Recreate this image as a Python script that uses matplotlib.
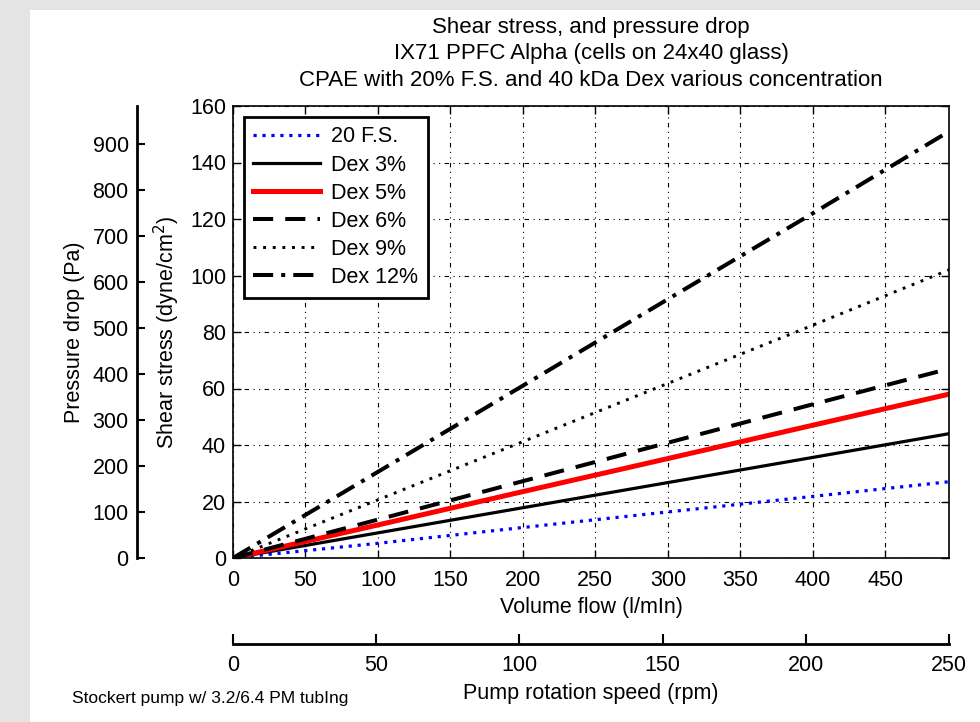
import matplotlib
matplotlib.use('Agg')
import matplotlib.pyplot as plt
import matplotlib.patches as patches
import numpy as np

plt.rcParams['font.family'] = ['Liberation Sans', 'DejaVu Sans']

# volume flow (l/min) sample points
flow = [0, 100, 200, 300, 400, 494]

fs20 = [0, 5.2, 10.8, 16.3, 21.8, 27]
dex3 = [0, 8.9, 17.8, 26.7, 35.6, 44]
dex5 = [0, 11.7, 23.5, 35.2, 47, 58]
dex6 = [0, 13.6, 27.2, 40.8, 54.4, 67]
dex9 = [0, 20.6, 41.2, 61.8, 82.4, 102]
dex12 = [0, 30.5, 61, 91.6, 122, 151]

labels = ['20 F.S.', 'Dex 3%', 'Dex 5%', 'Dex 6%', 'Dex 9%', 'Dex 12%']

flow_ticks = [0, 50, 100, 150, 200, 250, 300, 350, 400, 450]
shear_ticks = [0, 20, 40, 60, 80, 100, 120, 140, 160]
pressure_ticks = [0, 100, 200, 300, 400, 500, 600, 700, 800, 900]
rpm_ticks = [0, 50, 100, 150, 200, 250]

flow_max = 494
shear_max = 160
pressure_max = 983
rpm_max = 250

fs = 15.5

fig = plt.figure(figsize=(9.8, 7.22), dpi=100, facecolor='#e4e4e4')
# white page area over the grey background
fig.patches.append(patches.Rectangle((30 / 980, 0), 1, 1 - 10 / 722, transform=fig.transFigure,
                                     facecolor='white', edgecolor='none', zorder=-5))

L, R, B, T = 233 / 980, 949 / 980, 1 - 558 / 722, 1 - 106 / 722
ax = fig.add_axes([L, B, R - L, T - B])

ax.plot(flow, fs20, color='blue', linestyle=(0, (1, 1.8)), lw=2.3, label=labels[0])
ax.plot(flow, dex3, color='black', linestyle='-', lw=2.3, label=labels[1])
ax.plot(flow, dex5, color='red', linestyle='-', lw=3.6, label=labels[2])
ax.plot(flow, dex6, color='black', linestyle=(0, (5, 3)), lw=2.9, label=labels[3])
ax.plot(flow, dex9, color='black', linestyle=(0, (1, 2.3)), lw=2.1, label=labels[4])
ax.plot(flow, dex12, color='black', linestyle=(0, (5, 2, 1, 2)), lw=2.9, label=labels[5])

ax.set_xlim(0, flow_max)
ax.set_ylim(0, shear_max)
ax.set_xticks(flow_ticks)
ax.set_yticks(shear_ticks)
ax.tick_params(direction='in', length=6, width=1, top=True, right=True, labelsize=fs)
ax.tick_params(axis='x', pad=9)
ax.tick_params(axis='y', pad=5)
for s in ax.spines.values():
    s.set_linewidth(1.2)
ax.grid(True, color='black', linestyle=(0, (1, 4, 1, 4, 4, 4)), lw=0.8)
ax.set_xlabel('Volume flow (l/mIn)', fontsize=fs, labelpad=4)
ax.set_ylabel('Shear stress (dyne/cm$^2$)', fontsize=fs, labelpad=6)

leg = ax.legend(loc='upper left', fontsize=fs, handlelength=3.1, handletextpad=0.5,
                borderaxespad=0.5, labelspacing=0.33, fancybox=False, edgecolor='black',
                framealpha=1, borderpad=0.45)
leg.get_frame().set_linewidth(2)

# pressure drop axis on the far left
axp = fig.add_axes([137 / 980, B, 0.0001, T - B])
axp.set_ylim(0, pressure_max)
axp.set_yticks(pressure_ticks)
axp.set_xticks([])
axp.patch.set_alpha(0)
for k in ['top', 'right', 'bottom']:
    axp.spines[k].set_visible(False)
axp.spines['left'].set_linewidth(2)
axp.tick_params(axis='y', direction='in', length=6, width=1.5, labelsize=fs, pad=6)
axp.set_ylabel('Pressure drop (Pa)', fontsize=fs, labelpad=5)

# pump rotation speed axis at the bottom
axr = fig.add_axes([L, 1 - 644 / 722, R - L, 0.0001])
axr.set_xlim(0, rpm_max)
axr.set_xticks(rpm_ticks)
axr.set_yticks([])
axr.patch.set_alpha(0)
for k in ['top', 'right', 'left']:
    axr.spines[k].set_visible(False)
axr.spines['bottom'].set_linewidth(2)
axr.tick_params(axis='x', direction='in', length=7, width=1.5, labelsize=fs, pad=8)
axr.set_xlabel('Pump rotation speed (rpm)', fontsize=fs, labelpad=5)

fig.text((L + R) / 2, 1 - 54 / 722,
         'Shear stress, and pressure drop\nIX71 PPFC Alpha (cells on 24x40 glass)\n'
         'CPAE with 20% F.S. and 40 kDa Dex various concentration',
         ha='center', va='center', fontsize=16, linespacing=1.32)
fig.text(72 / 980, 1 - 698 / 722, 'Stockert pump w/ 3.2/6.4 PM tubIng',
         ha='left', va='center', fontsize=12.5)

fig.savefig('out.png', dpi=100, facecolor=fig.get_facecolor())
